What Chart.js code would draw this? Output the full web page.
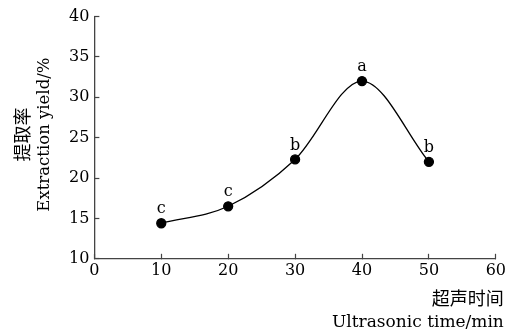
<!DOCTYPE html>
<html>
<head>
<meta charset="utf-8">
<script src="https://cdn.jsdelivr.net/npm/chart.js@4"></script>
<style>
  html, body { margin: 0; padding: 0; background: #fff; }
  #wrap { width: 513px; height: 332px; }
</style>
</head>
<body>
<div id="wrap"><canvas id="chartjs-0"></canvas></div>
<script>
var times = [10, 20, 30, 40, 50];
var yields = [14.4, 16.5, 22.3, 32.0, 22.0];
var letters = ["c", "c", "b", "a", "b"];
var xTicks = [0, 10, 20, 30, 40, 50, 60];
var yTicks = [10, 15, 20, 25, 30, 35, 40];
var xTitle = ["超声时间", "Ultrasonic time/min"];
var yTitle = ["提取率", "Extraction yield/%"];

var serif = "'DejaVu Serif', 'Noto Sans CJK SC', serif";
var cjk = "'Noto Sans CJK SC', serif";

var points = [];
for (var i = 0; i < times.length; i++) {
    points[i] = { x: times[i], y: yields[i] };
}

/* letters above each point, and the two-font axis titles */
var textPlugin = {
    id: "texts",
    afterDatasetsDraw: function (chart) {
        var ctx = chart.ctx;
        var meta = chart.getDatasetMeta(0);
        var area = chart.chartArea;
        ctx.save();
        ctx.fillStyle = "#000";
        ctx.font = "16px " + serif;
        ctx.textAlign = "center";
        ctx.textBaseline = "bottom";
        for (var i = 0; i < meta.data.length; i++) {
            ctx.fillText(letters[i], meta.data[i].x, meta.data[i].y - 6);
        }

        /* x title, right aligned */
        ctx.textAlign = "right";
        ctx.textBaseline = "middle";
        ctx.font = "18px " + cjk;
        ctx.fillText(xTitle[0], area.right + 8, area.bottom + 39);
        ctx.font = "17px " + serif;
        ctx.fillText(xTitle[1], area.right + 8, area.bottom + 64);

        /* y title, rotated */
        var cy = (area.top + area.bottom) / 2 - 3;
        ctx.translate(22, cy);
        ctx.rotate(-Math.PI / 2);
        ctx.textAlign = "center";
        ctx.font = "18px " + cjk;
        ctx.fillText(yTitle[0], 0, 0);
        ctx.font = "16.5px " + serif;
        ctx.fillText(yTitle[1], 0, 23);
        ctx.restore();
    }
};

var ctx = document.getElementById("chartjs-0");

var myChart = new Chart(ctx, {
    type: "line",
    data: {
        datasets: [{
            data: points,
            borderColor: "#000",
            borderWidth: 1.3,
            backgroundColor: "#000",
            pointRadius: 4.5,
            pointBackgroundColor: "#000",
            cubicInterpolationMode: "monotone",
            fill: false
        }]
    },
    options: {
        responsive: true,
        maintainAspectRatio: false,
        animation: false,
        layout: { padding: { top: 0, right: 8, left: 59, bottom: 45 } },
        plugins: {
            legend: { display: false },
            tooltip: { enabled: false }
        },
        scales: {
            x: {
                type: "linear",
                min: 0,
                max: 60,
                afterBuildTicks: function (axis) {
                    axis.ticks = xTicks.map(function (v) { return { value: v }; });
                },
                grid: { drawOnChartArea: false, tickLength: -5, color: "#444", tickWidth: 1.2 },
                border: { color: "#444", width: 1.3 },
                ticks: { color: "#000", font: { family: serif, size: 16 }, padding: 7, maxRotation: 0 }
            },
            y: {
                min: 10,
                max: 40,
                afterBuildTicks: function (axis) {
                    axis.ticks = yTicks.map(function (v) { return { value: v }; });
                },
                grid: { drawOnChartArea: false, tickLength: -5, color: "#444", tickWidth: 1.2 },
                border: { color: "#444", width: 1.3 },
                ticks: { color: "#000", font: { family: serif, size: 16, lineHeight: 0.8 }, padding: 10 }
            }
        }
    },
    plugins: [textPlugin]
});
</script>
</body>
</html>
